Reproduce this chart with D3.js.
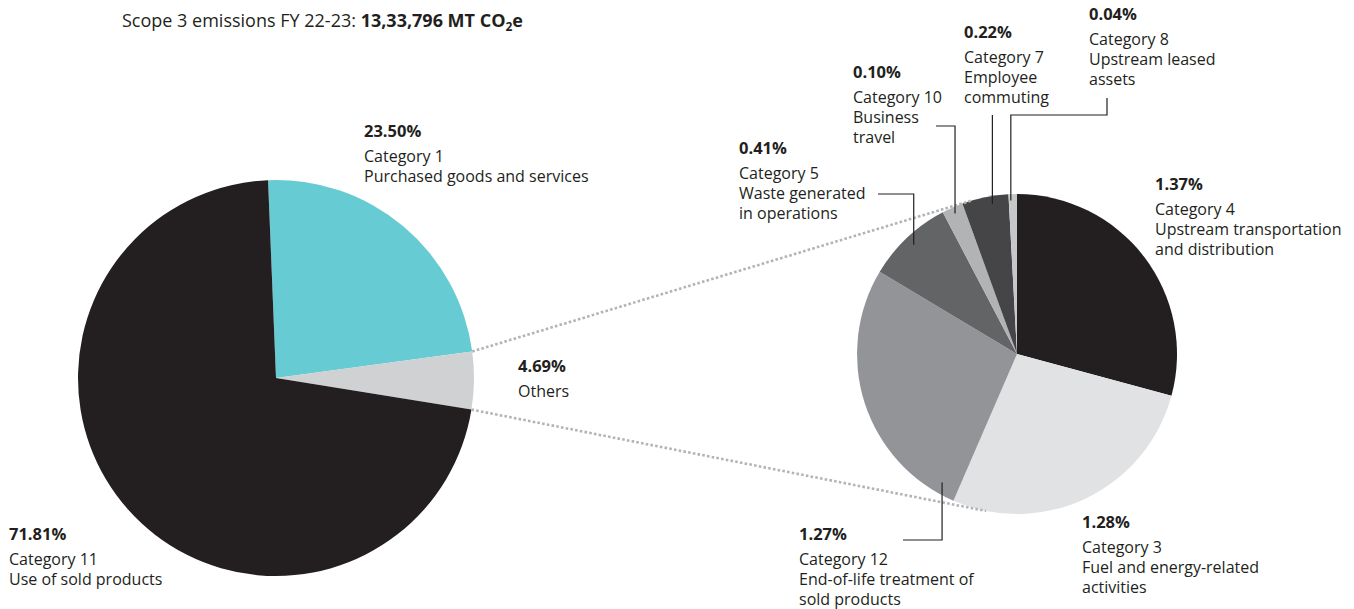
<!DOCTYPE html>
<html>
<head>
<meta charset="utf-8">
<script src="https://cdn.jsdelivr.net/npm/d3@7"></script>
<style>
  html, body { margin: 0; padding: 0; background: #ffffff; }
  svg text { font-family: "Open Sans", Lato, sans-serif; fill: #231f20; }
</style>
</head>
<body>
<svg id="chart" width="1354" height="609"></svg>
<script>
// Scope 3 split: main categories
const mainCategories = ["Category 1", "Others", "Category 11"];
const mainDescriptions = [["Purchased goods and services"], [], ["Use of sold products"]];
const mainValues = [23.50, 4.69, 71.81];

// Breakdown of "Others"
const otherCategories = ["Category 4", "Category 3", "Category 12", "Category 5", "Category 10", "Category 7", "Category 8"];
const otherDescriptions = [
  ["Upstream transportation", "and distribution"],
  ["Fuel and energy-related", "activities"],
  ["End-of-life treatment of", "sold products"],
  ["Waste generated", "in operations"],
  ["Business", "travel"],
  ["Employee", "commuting"],
  ["Upstream leased", "assets"]
];
const otherValues = [1.37, 1.28, 1.27, 0.41, 0.10, 0.22, 0.04];

const titleText = "Scope 3 emissions FY 22-23: ";
const titleTotal = "13,33,796 MT CO";

const mainColors = ["#67cbd3", "#cfd1d2", "#231f20"];
const otherColors = ["#231f20", "#e1e2e3", "#929497", "#636466", "#b2b3b5", "#454547", "#c6c7c8"];

const svg = d3.select("#chart");
const ink = "#231f20";
const labelSize = "16px";
const pctSize = "16.5px";

// ---- title
const title = svg.append("text").attr("x", 122).attr("y", 27).style("font-size", "18px");
title.append("tspan").text(titleText);
title.append("tspan").style("font-weight", 700).text(titleTotal);
title.append("tspan").style("font-weight", 700).style("font-size", "12px").attr("dy", 4).text("2");
title.append("tspan").style("font-weight", 700).attr("dy", -4).text("e");

// ---- pies
const mainPie = { cx: 276, cy: 378, r: 198 };
const otherPie = { cx: 1017, cy: 354, r: 160 };
const deg = Math.PI / 180;

const mainArcs = d3.pie().sort(null).startAngle(-2.3 * deg).endAngle(357.7 * deg)(mainValues);
const otherArcs = d3.pie().sort(null)(otherValues);

const arcMain = d3.arc().innerRadius(0).outerRadius(mainPie.r);
const arcOther = d3.arc().innerRadius(0).outerRadius(otherPie.r);

svg.append("g").attr("transform", `translate(${mainPie.cx},${mainPie.cy})`)
  .selectAll("path").data(mainArcs).join("path")
  .attr("d", arcMain).attr("fill", (d, i) => mainColors[i]);

svg.append("g").attr("transform", `translate(${otherPie.cx},${otherPie.cy})`)
  .selectAll("path").data(otherArcs).join("path")
  .attr("d", arcOther).attr("fill", (d, i) => otherColors[i]);

// point on a pie at angle a (clockwise from 12 o'clock) and radius r
function polar(p, a, r) {
  return [p.cx + r * Math.sin(a), p.cy - r * Math.cos(a)];
}

// ---- dotted tangents from the "Others" slice to the breakdown pie
const othersArc = mainArcs[1];
function tangent(P, C, R, sign) {
  const dx = C[0] - P[0], dy = C[1] - P[1];
  const d = Math.hypot(dx, dy);
  const L = Math.sqrt(d * d - R * R);
  const th = Math.atan2(dy, dx) + sign * Math.asin(R / d);
  return [P[0] + L * Math.cos(th), P[1] + L * Math.sin(th)];
}
const pTop = polar(mainPie, othersArc.startAngle, mainPie.r);
const pBot = polar(mainPie, othersArc.endAngle, mainPie.r);
const C = [otherPie.cx, otherPie.cy];
[[pTop, tangent(pTop, C, otherPie.r, -1)], [pBot, tangent(pBot, C, otherPie.r, 1)]].forEach(seg => {
  svg.append("line")
    .attr("x1", seg[0][0]).attr("y1", seg[0][1])
    .attr("x2", seg[1][0]).attr("y2", seg[1][1])
    .attr("stroke", "#b3b4b6").attr("stroke-width", 2.6)
    .attr("stroke-dasharray", "2.6,2.2");
});

// ---- labels
function label(x, y, pct, lines) {
  const g = svg.append("g");
  g.append("text").attr("x", x).attr("y", y)
    .style("font-size", pctSize).style("font-weight", 700).text(pct.toFixed(2) + "%");
  lines.forEach((t, i) => {
    g.append("text").attr("x", x).attr("y", y + 25 + i * 20)
      .style("font-size", labelSize).text(t);
  });
}

const mainLabelPos = [[364, 137], [518, 372], [9, 540]];
mainValues.forEach((v, i) => {
  label(mainLabelPos[i][0], mainLabelPos[i][1], v, [mainCategories[i]].concat(mainDescriptions[i]));
});

const otherLabelPos = [[1155, 190], [1082, 528], [799, 540], [739, 154], [853, 78], [964, 38], [1089, 20]];
otherValues.forEach((v, i) => {
  label(otherLabelPos[i][0], otherLabelPos[i][1], v, [otherCategories[i]].concat(otherDescriptions[i]));
});

// ---- leader lines: anchor inside a slice, then elbow routes to the label
// t: position within the slice (0..1), k: radius fraction
const leaders = [
  { i: 3, t: 0.5,  k: 0.94, route: a => [[a[0], 194], [878, 194]] },
  { i: 4, t: 0.5,  k: 0.96, route: a => [[a[0], 126], [936, 126]] },
  { i: 5, t: 0.63, k: 0.95, route: a => [[a[0], 115]] },
  { i: 6, t: 0.25, k: 0.96, route: a => [[a[0], 115], [1107, 115], [1107, 98]] },
  { i: 2, t: 0.07, k: 0.93, route: a => [[a[0], 540], [903, 540]] }
];
leaders.forEach(l => {
  const s = otherArcs[l.i];
  const ang = s.startAngle + l.t * (s.endAngle - s.startAngle);
  const a = polar(otherPie, ang, l.k * otherPie.r);
  const pts = [a].concat(l.route(a));
  svg.append("path")
    .attr("d", d3.line()(pts))
    .attr("fill", "none").attr("stroke", ink).attr("stroke-width", 1.2);
});
</script>
</body>
</html>
